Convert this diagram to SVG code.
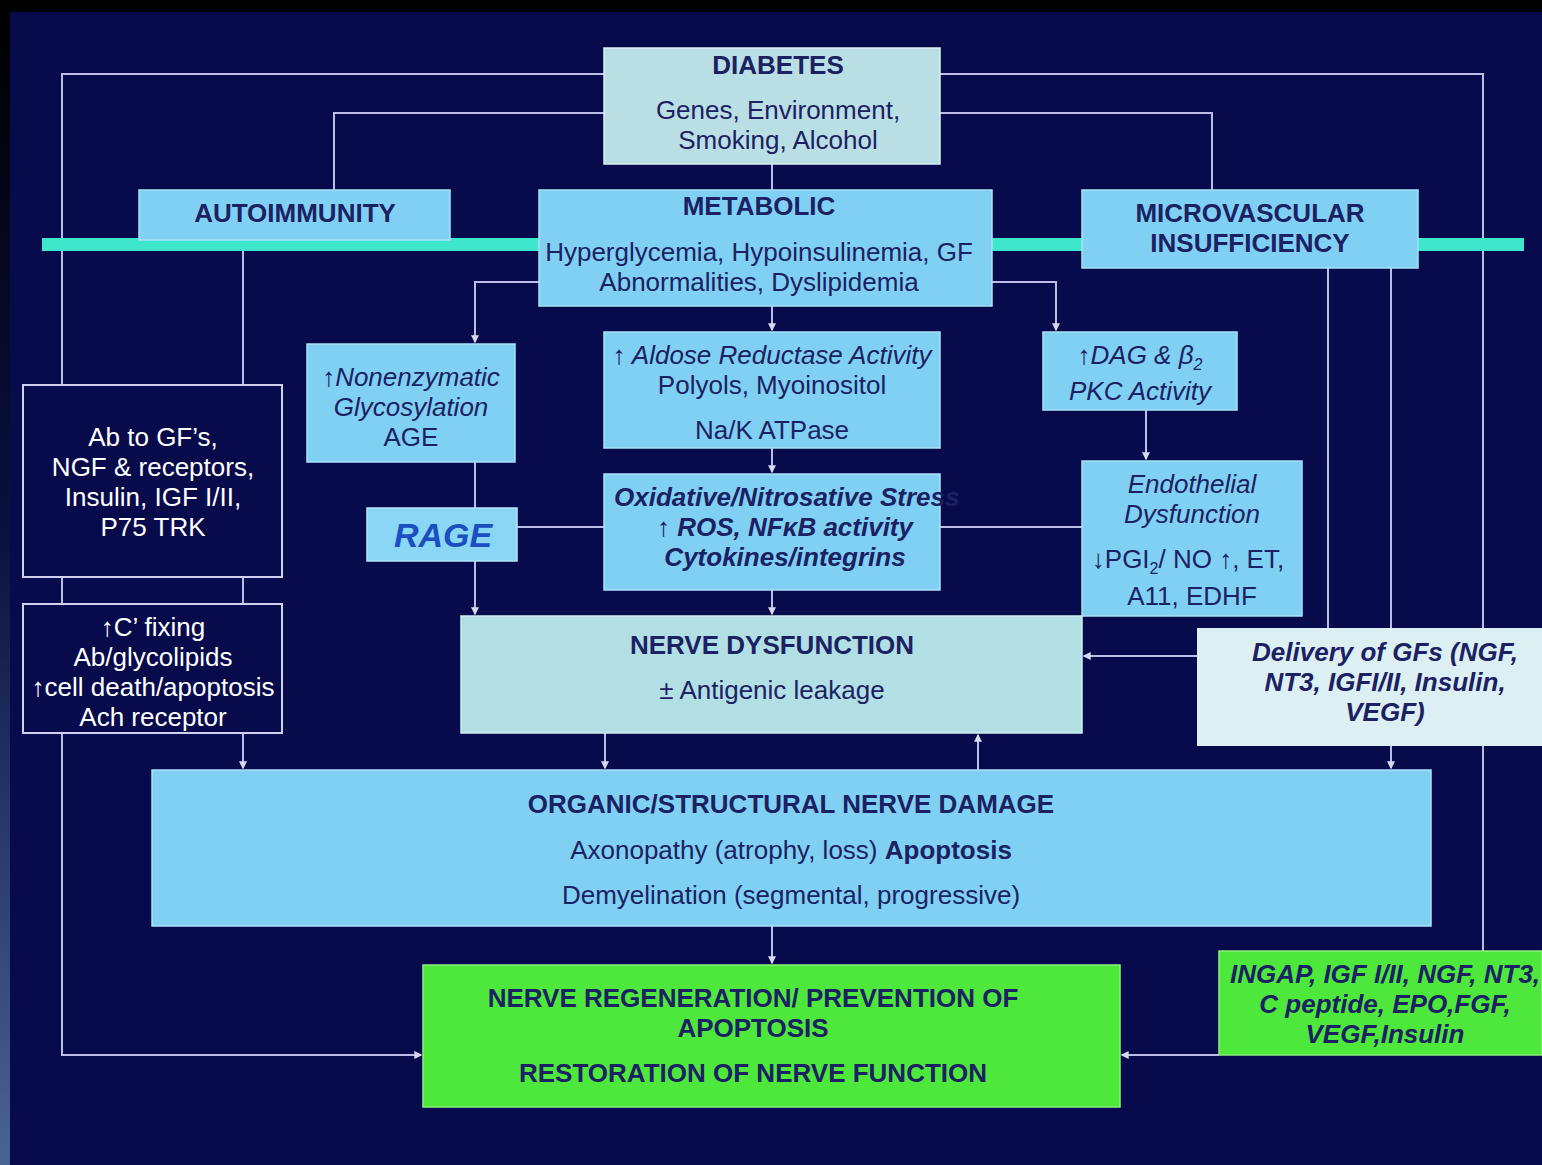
<svg xmlns="http://www.w3.org/2000/svg" width="1542" height="1165" viewBox="0 0 1542 1165">
<defs>
<linearGradient id="edge" x1="0" y1="0" x2="0" y2="1">
<stop offset="0" stop-color="#000000"/>
<stop offset="0.45" stop-color="#0a1040"/>
<stop offset="1" stop-color="#4a6496"/>
</linearGradient>
<marker id="ah" viewBox="0 0 6 6" refX="5" refY="3" markerWidth="4" markerHeight="4" orient="auto">
<path d="M0,0 L6,3 L0,6 z" fill="#d8d8f4"/>
</marker>
<style>
.ln{fill:none;stroke:#bcbce8;stroke-width:2}
.sky{fill:#7fd0f2;stroke:#a8e2f8;stroke-width:1.5}
.dark{fill:#070b4c;stroke:#d0d0f0;stroke-width:2}
.t{font-family:"Liberation Sans",Arial,sans-serif;font-size:26px;fill:#1b2163;text-anchor:middle}
.b{font-weight:bold}
.i{font-style:italic}
.w{fill:#ffffff}
</style>
</defs>
<rect x="0" y="0" width="1542" height="1165" fill="#070b4c"/>
<rect x="0" y="0" width="1542" height="12" fill="#000000"/>
<rect x="0" y="0" width="10" height="1165" fill="url(#edge)"/>

<g id="connectors">
<path class="ln" d="M604,74 H62 V1055 H421" marker-end="url(#ah)"/>
<path class="ln" d="M940,74 H1483 V951"/>
<path class="ln" d="M604,113 H334 V190"/>
<path class="ln" d="M940,113 H1212 V190"/>
<path class="ln" d="M772,164 V190"/>
<path class="ln" d="M243,240 V385"/>
<path class="ln" d="M243,577 V604"/>
<path class="ln" d="M243,733 V768" marker-end="url(#ah)"/>
<path class="ln" d="M539,282 H475 V342" marker-end="url(#ah)"/>
<path class="ln" d="M475,462 V614" marker-end="url(#ah)"/>
<path class="ln" d="M772,306 V330" marker-end="url(#ah)"/>
<path class="ln" d="M772,448 V472" marker-end="url(#ah)"/>
<path class="ln" d="M772,590 V614" marker-end="url(#ah)"/>
<path class="ln" d="M992,282 H1056 V330" marker-end="url(#ah)"/>
<path class="ln" d="M1146,410 V459" marker-end="url(#ah)"/>
<path class="ln" d="M517,527 H604"/>
<path class="ln" d="M940,527 H1082"/>
<path class="ln" d="M1328,268 V628"/>
<path class="ln" d="M1391,268 V768" marker-end="url(#ah)"/>
<path class="ln" d="M1197,656 H1084" marker-end="url(#ah)"/>
<path class="ln" d="M605,733 V768" marker-end="url(#ah)"/>
<path class="ln" d="M978,770 V735" marker-end="url(#ah)"/>
<path class="ln" d="M772,926 V963" marker-end="url(#ah)"/>
<path class="ln" d="M1219,1055 H1122" marker-end="url(#ah)"/>
</g>

<rect id="bar" x="42" y="238" width="1482" height="13" fill="#3ee6cc"/>

<g id="diabetes">
<rect x="604" y="48" width="336" height="116" fill="#b9dfe4" stroke="#d8eef0" stroke-width="1.5"/>
<text class="t b" x="778" y="74">DIABETES</text>
<text class="t" x="778" y="119">Genes, Environment,</text>
<text class="t" x="778" y="149">Smoking, Alcohol</text>
</g>

<g id="autoimmunity">
<rect class="sky" x="139" y="190" width="311" height="50"/>
<text class="t b" x="295" y="222">AUTOIMMUNITY</text>
</g>

<g id="metabolic">
<rect class="sky" x="539" y="190" width="453" height="116"/>
<text class="t b" x="759" y="215">METABOLIC</text>
<text class="t" x="759" y="261">Hyperglycemia, Hypoinsulinemia, GF</text>
<text class="t" x="759" y="291">Abnormalities, Dyslipidemia</text>
</g>

<g id="microvascular">
<rect class="sky" x="1082" y="190" width="336" height="78"/>
<text class="t b" x="1250" y="222">MICROVASCULAR</text>
<text class="t b" x="1250" y="252">INSUFFICIENCY</text>
</g>

<g id="antibodies">
<rect class="dark" x="23" y="385" width="259" height="192"/>
<text class="t w" x="153" y="446">Ab to GF’s,</text>
<text class="t w" x="153" y="476">NGF &amp; receptors,</text>
<text class="t w" x="153" y="506">Insulin, IGF I/II,</text>
<text class="t w" x="153" y="536">P75 TRK</text>
</g>

<g id="complement">
<rect class="dark" x="23" y="604" width="259" height="129"/>
<text class="t w" x="153" y="636">↑C’ fixing</text>
<text class="t w" x="153" y="666">Ab/glycolipids</text>
<text class="t w" x="153" y="696">↑cell death/apoptosis</text>
<text class="t w" x="153" y="726">Ach receptor</text>
</g>

<g id="glycosylation">
<rect class="sky" x="307" y="344" width="208" height="118"/>
<text class="t i" x="411" y="386">↑Nonenzymatic</text>
<text class="t i" x="411" y="416">Glycosylation</text>
<text class="t" x="411" y="446">AGE</text>
</g>

<g id="rage">
<rect x="367" y="508" width="150" height="53" fill="#8ad6f4" stroke="#b0e6fa" stroke-width="1.5"/>
<text class="t b i" x="443" y="547" style="font-size:34px;fill:#1a4fc2">RAGE</text>
</g>

<g id="aldose">
<rect class="sky" x="604" y="332" width="336" height="116"/>
<text class="t i" x="772" y="364">↑ Aldose Reductase Activity</text>
<text class="t" x="772" y="394">Polyols, Myoinositol</text>
<text class="t" x="772" y="439">Na/K ATPase</text>
</g>

<g id="oxidative">
<rect class="sky" x="604" y="474" width="336" height="116"/>
<text class="t b i" x="614" y="506" style="text-anchor:start">Oxidative/Nitrosative Stress</text>
<text class="t b i" x="785" y="536">↑ ROS, NFκB activity</text>
<text class="t b i" x="785" y="566">Cytokines/integrins</text>
</g>

<g id="dag">
<rect class="sky" x="1043" y="332" width="194" height="78"/>
<text class="t i" x="1140" y="364">↑DAG &amp; β<tspan dy="6" style="font-size:16px">2</tspan></text>
<text class="t i" x="1140" y="400">PKC Activity</text>
</g>

<g id="endothelial">
<rect class="sky" x="1082" y="461" width="220" height="155"/>
<text class="t i" x="1192" y="493">Endothelial</text>
<text class="t i" x="1192" y="523">Dysfunction</text>
<text class="t" x="1188" y="568">↓PGI<tspan dy="6" style="font-size:16px">2</tspan><tspan dy="-6">/ NO ↑, ET,</tspan></text>
<text class="t" x="1192" y="605">A11, EDHF</text>
</g>

<g id="nerve-dysfunction">
<rect x="461" y="616" width="621" height="117" fill="#b2dfe3" stroke="#cdeef0" stroke-width="1.5"/>
<text class="t b" x="772" y="654">NERVE DYSFUNCTION</text>
<text class="t" x="772" y="699">± Antigenic leakage</text>
</g>

<g id="delivery">
<rect x="1197" y="628" width="345" height="118" fill="#dcf0f4"/>
<text class="t b i" x="1385" y="661">Delivery of GFs (NGF,</text>
<text class="t b i" x="1385" y="691">NT3, IGFI/II, Insulin,</text>
<text class="t b i" x="1385" y="721">VEGF)</text>
</g>

<g id="organic">
<rect class="sky" x="152" y="770" width="1279" height="156"/>
<text class="t b" x="791" y="813">ORGANIC/STRUCTURAL NERVE DAMAGE</text>
<text class="t" x="791" y="859">Axonopathy (atrophy, loss) <tspan class="b">Apoptosis</tspan></text>
<text class="t" x="791" y="904">Demyelination (segmental, progressive)</text>
</g>

<g id="regeneration">
<rect x="423" y="965" width="697" height="142" fill="#4ee83c" stroke="#8ef07c" stroke-width="1.5"/>
<text class="t b" x="753" y="1007">NERVE REGENERATION/ PREVENTION OF</text>
<text class="t b" x="753" y="1037">APOPTOSIS</text>
<text class="t b" x="753" y="1082">RESTORATION OF NERVE FUNCTION</text>
</g>

<g id="growth-factors">
<rect x="1219" y="951" width="323" height="104" fill="#4ee83c" stroke="#8ef07c" stroke-width="1.5"/>
<text class="t b i" x="1385" y="983">INGAP, IGF I/II, NGF, NT3,</text>
<text class="t b i" x="1385" y="1013">C peptide, EPO,FGF,</text>
<text class="t b i" x="1385" y="1043">VEGF,Insulin</text>
</g>
</svg>
